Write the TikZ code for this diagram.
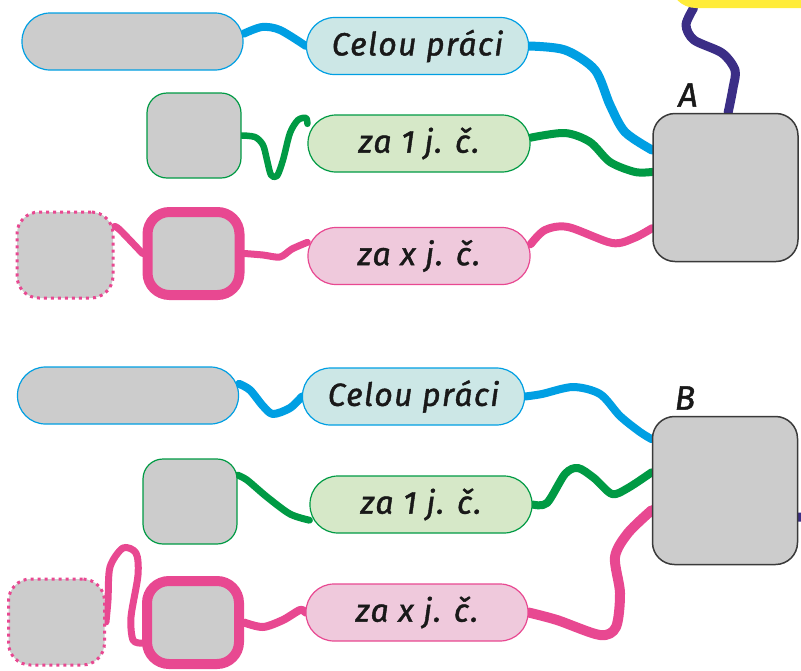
\documentclass[tikz,border=0pt]{standalone}
\usepackage{fontspec}
\setmainfont{Fira Sans}
\newfontfamily\handfont{Fira Sans}[ItalicFeatures={FakeBold=1.3}, LetterSpace=4]
\usetikzlibrary{backgrounds}

\definecolor{lineblue}{RGB}{0,159,227}
\definecolor{fillblue}{RGB}{204,231,230}
\definecolor{linegreen}{RGB}{0,154,68}
\definecolor{fillgreen}{RGB}{214,232,200}
\definecolor{linepink}{RGB}{232,72,145}
\definecolor{fillpink}{RGB}{239,201,220}
\definecolor{slotgray}{RGB}{204,204,204}
\definecolor{hubline}{RGB}{58,58,58}
\definecolor{linepurple}{RGB}{59,46,134}
\definecolor{sunyellow}{RGB}{255,236,58}

\tikzset{
  tag/.style={draw=#1, line width=1.2pt, rounded corners=28pt,
    minimum width=222pt, minimum height=57pt, inner sep=0pt,
    font=\handfont\fontsize{32}{36}\selectfont\itshape, text=black!90},
  pill/.style={draw=#1, line width=1.2pt, fill=slotgray, rounded corners=28pt,
    minimum width=221pt, minimum height=57pt},
  slot/.style={draw=#1, line width=1.2pt, fill=slotgray, rounded corners=20pt,
    minimum width=94pt, minimum height=85pt},
  thickslot/.style={draw=linepink, line width=10pt, fill=slotgray, rounded corners=22pt,
    minimum width=92pt, minimum height=83pt},
  dotslot/.style={draw=linepink, line width=3pt, dash pattern=on 3pt off 4pt,
    fill=slotgray, rounded corners=22pt, minimum width=96pt, minimum height=86pt},
  hub/.style={draw=hubline, line width=1.5pt, fill=slotgray, rounded corners=22pt,
    minimum width=145pt, minimum height=148pt},
  letter/.style={font=\handfont\fontsize{34}{36}\selectfont\itshape, text=black!90},
  link/.style={draw=#1, line width=8pt, line cap=round, line join=round},
}

\begin{document}
\begin{tikzpicture}[x=1pt, y=-1pt]
\useasboundingbox (0,0) rectangle (801,670);

% upper group
\node[fill=sunyellow, rounded corners=26pt, minimum width=180pt, minimum height=56pt] (sun) at (760,-20) {};
\node[pill=lineblue] (pillA) at (132.5,41.5) {};
\node[tag=lineblue, fill=fillblue] (celouA) at (417.5,46) {Celou práci};
\node[slot=linegreen] (slotA) at (194,135.5) {};
\node[tag=linegreen, fill=fillgreen] (jedA) at (419,143.5) {za 1 j. č.};
\node[dotslot] (dotA) at (65,255) {};
\node[thickslot] (thickA) at (193.5,253.5) {};
\node[tag=linepink, fill=fillpink] (xA) at (419,256) {za x j. č.};
\node[hub] (hubA) at (725.5,187.5) {};
\node[letter] (labA) at (688,95) {A};

% lower group
\node[pill=lineblue] (pillB) at (128,395.5) {};
\node[tag=lineblue, fill=fillblue] (celouB) at (413.5,396.5) {Celou práci};
\node[slot=linegreen] (slotB) at (190,501.5) {};
\node[tag=linegreen, fill=fillgreen] (jedB) at (421,504.5) {za 1 j. č.};
\node[dotslot] (dotB) at (56.5,622) {};
\node[thickslot] (thickB) at (193,622.5) {};
\node[tag=linepink, fill=fillpink] (xB) at (417,612.5) {za x j. č.};
\node[hub] (hubB) at (725,490.5) {};
\node[letter] (labB) at (685,398) {B};
\coordinate (exitB) at (830,517);

\begin{scope}[on background layer]
  % links of the upper group
  \draw[link=lineblue] plot[smooth] coordinates {(pillA.4) (262,27) (280,30) (celouA.west)};
  \draw[link=lineblue, line width=9pt] plot[smooth] coordinates {(celouA.east) (565,50) (595,70) (610,105) (625,132) (hubA.153)};
  \draw[link=linegreen, line width=6.5pt] plot[smooth] coordinates {(slotA.east) (255,137) (263,145) (267,160) (271,175) (277,176) (283,160) (290,133) (298,120) (306,118) (jedA.170)};
  \draw[link=linegreen] plot[smooth] coordinates {(jedA.3) (565,133) (590,142) (610,162) (635,172) (hubA.168)};
  \draw[link=linepink, line width=7pt] plot[smooth] coordinates {(dotA.30) (120,230) (thickA.west)};
  \draw[link=linepink, line width=7pt] plot[smooth] coordinates {(thickA.east) (263,255) (280,257) (292,249) (xA.173)};
  \draw[link=linepink] plot[smooth] coordinates {(xA.6) (545,230) (568,227) (612,243) (634,238) (hubA.209)};
  \draw[link=linepurple, line width=9pt] plot[smooth] coordinates {(hubA.88) (733,88) (735,70) (722,53) (694,40) (686,25) (sun.203)};

  % links of the lower group
  \draw[link=lineblue] plot[smooth] coordinates {(pillB.6) (250,390) (263,406) (273,414) (290,408) (celouB.west)};
  \draw[link=lineblue] plot[smooth] coordinates {(celouB.east) (542,394) (573,387) (600,394) (620,416) (640,432) (hubB.145)};
  \draw[link=linegreen, line width=7pt] plot[smooth] coordinates {(slotB.29) (247,480) (267,497) (290,514) (jedB.188)};
  \draw[link=linegreen] plot[smooth] coordinates {(jedB.east) (547,503) (565,474) (578,468) (594,478) (612,494) (628,488) (hubB.166)};
  \draw[link=linepink, line width=7pt] plot[smooth] coordinates {(dotB.east) (108,600) (110,567) (123,548) (136,553) (138,575) (131,617) (133,640) (thickB.202)};
  \draw[link=linepink] plot[smooth] coordinates {(thickB.east) (263,627) (283,620) (300,610) (xB.west)};
  \draw[link=linepink, line width=10pt] plot[smooth] coordinates {(xB.east) (557,620) (600,635) (616,627) (620,593) (615,557) (628,533) (hubB.195)};
  \draw[link=linepurple, line width=9pt] (hubB.340) -- (exitB);
\end{scope}
\end{tikzpicture}
\end{document}
